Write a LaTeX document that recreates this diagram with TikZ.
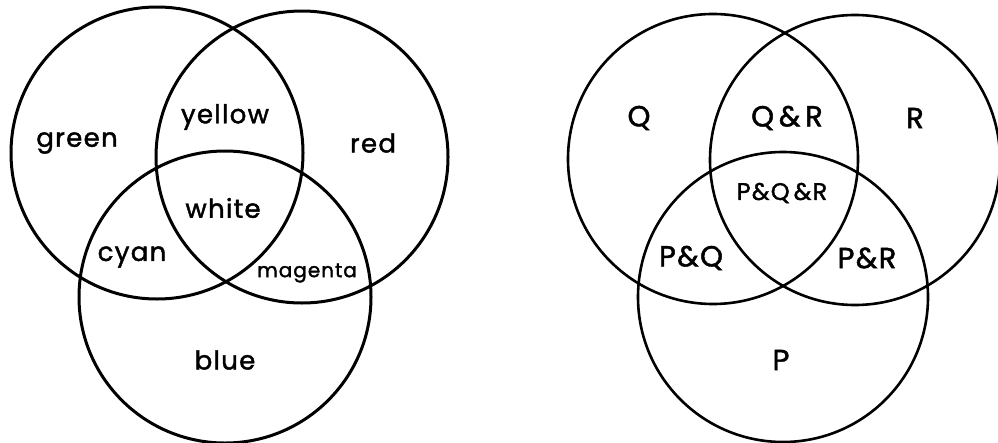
\documentclass[tikz,border=0pt]{standalone}
\usepackage{fontspec}
\setmainfont{Poppins}
\newfontfamily\lettering{Poppins}[FakeBold=1.6,LetterSpace=5]
\begin{document}
\begin{tikzpicture}[x=1pt,y=-1pt,
  vc/.style={circle,draw=black,line width=3pt,minimum size=292pt,inner sep=0pt},
  vcr/.style={circle,draw=black,line width=2.6pt,minimum size=290pt,inner sep=0pt},
  lab/.style={inner sep=0pt,font=\lettering\fontsize{26}{28}\selectfont},
  labsm/.style={inner sep=0pt,font=\lettering\fontsize{20}{24}\selectfont},
  labU/.style={inner sep=0pt,font=\lettering\fontsize{29}{32}\selectfont},
  labUs/.style={inner sep=0pt,font=\lettering\fontsize{24}{28}\selectfont}]
\useasboundingbox (0,0) rectangle (998,442);
% left diagram
\node[vc] (green) at (157,153) {};
\node[vc] (red) at (302,157) {};
\node[vc] (blue) at (225,297) {};
\node[lab] (tgreen) at (77,143) {green};
\node[lab] (tyellow) at (225,117) {yellow};
\node[lab] (tred) at (373,143) {red};
\node[lab] (twhite) at (223,208) {white};
\node[lab] (tcyan) at (132,257) {cyan};
\node[labsm] (tmagenta) at (307,273) {magenta};
\node[lab] (tblue) at (225,360) {blue};
% right diagram
\node[vcr] (Q) at (713,159) {};
\node[vcr] (R) at (855,160) {};
\node[vcr] (P) at (783,297) {};
\node[labU] (tQ) at (639,118) {Q};
\node[labU] (tQR) at (787,118) {Q\,\&\,R};
\node[labU] (tR) at (915,118) {R};
\node[labUs] (tPQR) at (782,193) {P\&Q\,\&R};
\node[labU] (tPQ) at (691,258) {P\&Q};
\node[labU] (tPR) at (867,258) {P\&R};
\node[labU] (tP) at (781,360) {P};
\end{tikzpicture}
\end{document}
